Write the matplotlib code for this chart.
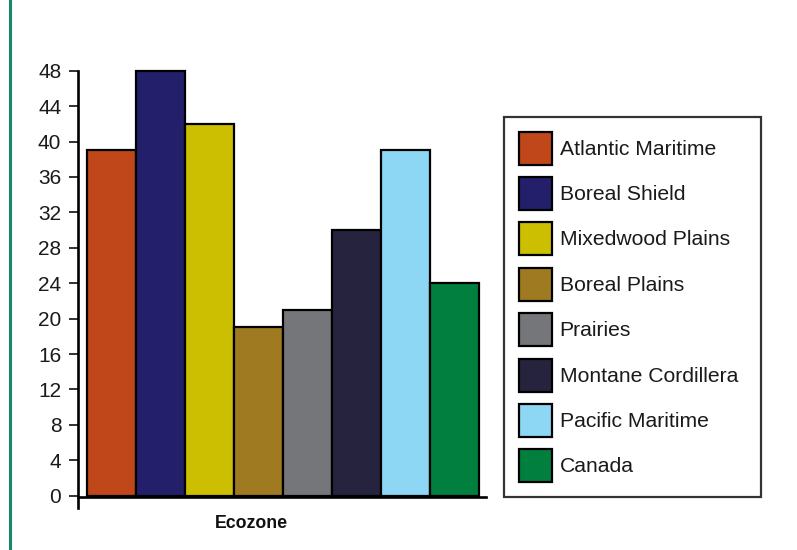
import matplotlib
matplotlib.use("Agg")
import matplotlib.pyplot as plt
import matplotlib.font_manager as fm
from matplotlib.patches import Patch
from matplotlib.lines import Line2D

# ---- data ----
categories = ["Atlantic Maritime", "Boreal Shield", "Mixedwood Plains", "Boreal Plains",
              "Prairies", "Montane Cordillera", "Pacific Maritime", "Canada"]
values = [39, 48, 42, 19, 21, 30, 39, 24]
colors = ["#C0471A", "#241F6B", "#CCBE00", "#A07A20",
          "#75767A", "#26233F", "#8DD6F4", "#007F3E"]
yticks = [0, 4, 8, 12, 16, 20, 24, 28, 32, 36, 40, 44, 48]
xlabel = "Ecozone"

names = {f.name for f in fm.fontManager.ttflist}
regular_family = "Liberation Sans" if "Liberation Sans" in names else "DejaVu Sans"
if "Liberation Sans Narrow" in names:
    narrow = dict(family="Liberation Sans Narrow")
    leg_size = 18
    lab_size = 14.5
else:
    narrow = dict(family=regular_family)
    leg_size = 15.2
    lab_size = 12.8

W, H = 797, 550
fig = plt.figure(figsize=(W / 100, H / 100), dpi=100)
ax = fig.add_axes([78 / W, (H - 508) / H, 408 / W, (508 - 70.7) / H])

x = list(range(len(values)))
bars = ax.bar(x, values, width=1.0, color=colors, edgecolor="black", linewidth=1.6,
              clip_on=False, zorder=3)

ax.set_xlim(-0.684, 7.643)
ax.set_ylim(-1.39, 48)
ax.set_yticks(yticks)
ax.set_yticklabels([str(t) for t in yticks], fontsize=15, family=regular_family, color="#1a1a1a")
ax.tick_params(axis="y", direction="out", length=6.5, width=1.3, pad=5.5, color="#222222")
ax.tick_params(axis="x", bottom=False, labelbottom=False)
for s in ["top", "right"]:
    ax.spines[s].set_visible(False)
ax.spines["left"].set_linewidth(1.9)
ax.spines["left"].set_bounds(-1.39, 48)
ax.spines["bottom"].set_position(("data", -0.1))
ax.spines["bottom"].set_linewidth(1.9)
ax.set_facecolor("none")

# legend
handles = [Patch(facecolor=c, edgecolor="black", linewidth=1.6) for c in colors]
fs_px = leg_size * 100 / 72
hh = (33 / fs_px - 0.245) / 0.65
leg = fig.legend(handles, categories, loc="upper left",
                 bbox_to_anchor=(504 / W, (H - 497) / H, 257 / W, 380 / H),
                 mode="expand", borderaxespad=0,
                 prop=dict(size=leg_size, **narrow),
                 handlelength=33 / fs_px, handleheight=hh,
                 labelspacing=12.4 / fs_px, handletextpad=8 / fs_px,
                 borderpad=14.5 / fs_px, fancybox=False, frameon=True)
leg.get_frame().set_edgecolor("black")
leg.get_frame().set_linewidth(1.6)
for t in leg.get_texts():
    t.set_color("#1a1a1a")

fig.text(251.5 / W, 1 - 524 / H, xlabel, ha="center", va="center",
         fontsize=lab_size, fontweight="bold", color="#111111", **narrow)

# left decorative green rule
fig.add_artist(Line2D([10 / W, 10 / W], [0, 1], transform=fig.transFigure,
                      color="#17866A", linewidth=2.2))

fig.savefig("out.png", dpi=100)
